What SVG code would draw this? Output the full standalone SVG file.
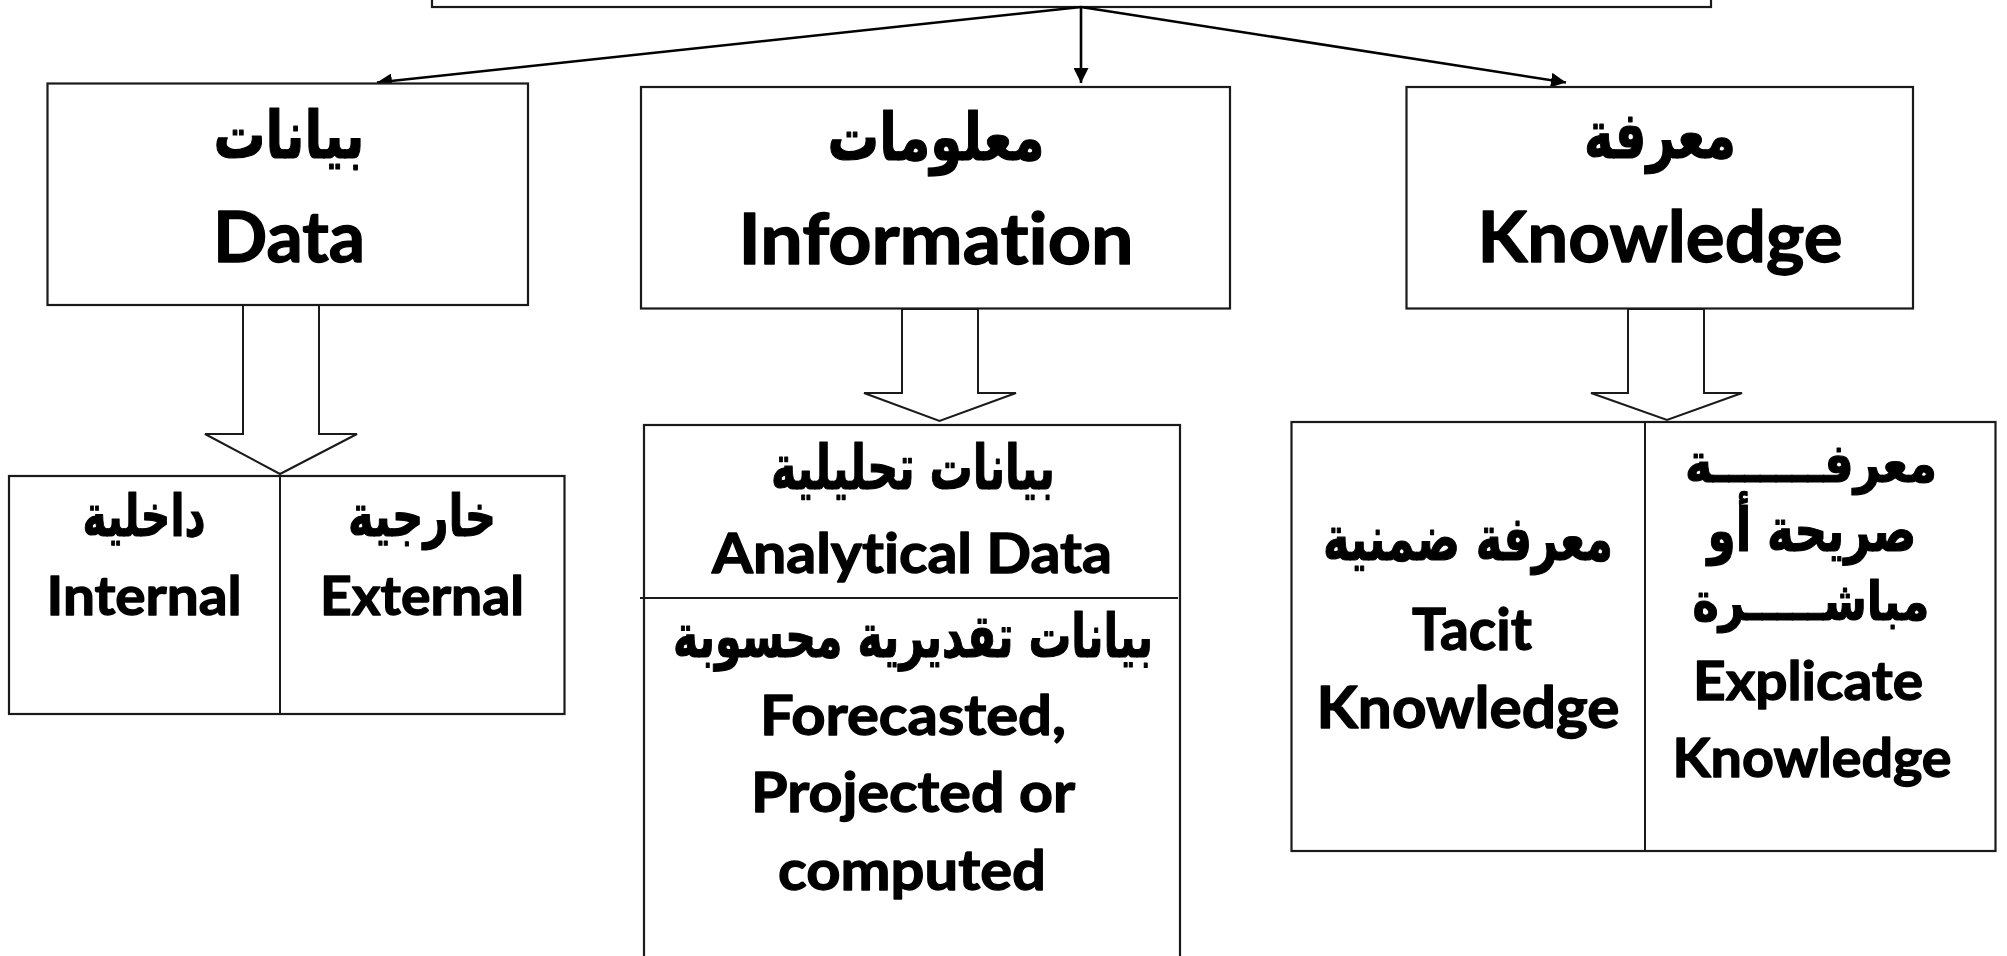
<svg xmlns="http://www.w3.org/2000/svg" width="2007" height="956" viewBox="0 0 2007 956">
  <defs>
    <marker id="arrow" viewBox="0 0 15 15" refX="15" refY="7.5" markerWidth="15" markerHeight="15" markerUnits="userSpaceOnUse" orient="auto">
      <path d="M0,0 L15,7.5 L0,15 Z" fill="#000"/>
    </marker>
    <style>
      .box { fill: #fff; stroke: #1a1a1a; stroke-width: 2.2; }
      .div { stroke: #1a1a1a; stroke-width: 2; fill: none; }
      .link { stroke: #000; stroke-width: 2.6; fill: none; marker-end: url(#arrow); }
      .block { fill: #fff; stroke: #1a1a1a; stroke-width: 2; stroke-linejoin: miter; }
      .en { font-family: Lato, "Open Sans", "Liberation Sans", sans-serif; font-weight: bold; font-variant-ligatures: none; fill: #000; stroke: #000; stroke-width: 1.3; stroke-linejoin: round; text-anchor: middle; }
      .ar { font-family: "DejaVu Sans", "Noto Sans Arabic", "Noto Sans", sans-serif; font-weight: bold; fill: #000; stroke: #000; stroke-width: 1.2; stroke-linejoin: round; text-anchor: middle; }
    </style>
  </defs>

  <rect width="2007" height="956" fill="#fff"/>

  <!-- root box, only its lower edge is in view -->
  <g id="root">
    <rect class="box" x="432" y="-30" width="1279" height="37"/>
  </g>

  <g id="connectors">
    <line class="link" x1="1081" y1="7" x2="377" y2="82.5"/>
    <line class="link" x1="1081" y1="7" x2="1081" y2="83"/>
    <line class="link" x1="1081" y1="7" x2="1566" y2="82.5"/>
    <!-- block arrows to the detail boxes -->
    <polygon class="block" points="243,305 319,305 319,434 357,434 280,474 205,434 243,434"/>
    <polygon class="block" points="902,309 978,309 978,393 1016,393 939.5,421 864,393 902,393"/>
    <polygon class="block" points="1628,309 1704,309 1704,393 1742,393 1667,420 1591,393 1628,393"/>
  </g>

  <g id="data">
    <rect class="box" x="47.5" y="83.5" width="480.5" height="221.5"/>
    <text class="ar" x="289" y="158" font-size="66" textLength="151" lengthAdjust="spacingAndGlyphs">بيانات</text>
    <text class="en" x="289" y="262" font-size="70" textLength="152" lengthAdjust="spacingAndGlyphs">Data</text>
  </g>

  <g id="information">
    <rect class="box" x="641" y="87" width="589" height="221.5"/>
    <text class="ar" x="936" y="160" font-size="66" textLength="217" lengthAdjust="spacingAndGlyphs">معلومات</text>
    <text class="en" x="936" y="264" font-size="70" textLength="395" lengthAdjust="spacingAndGlyphs">Information</text>
  </g>

  <g id="knowledge">
    <rect class="box" x="1406.5" y="87" width="506.5" height="221.5"/>
    <text class="ar" x="1660" y="158" font-size="66" textLength="152" lengthAdjust="spacingAndGlyphs">معرفة</text>
    <text class="en" x="1660" y="262" font-size="70" textLength="365" lengthAdjust="spacingAndGlyphs">Knowledge</text>
  </g>

  <g id="data-sources">
    <rect class="box" x="9" y="476" width="555.5" height="238"/>
    <line class="div" x1="280" y1="476" x2="280" y2="714"/>
    <text class="ar" x="144" y="536" font-size="58" textLength="123" lengthAdjust="spacingAndGlyphs">داخلية</text>
    <text class="en" x="144" y="615" font-size="54" textLength="195" lengthAdjust="spacingAndGlyphs">Internal</text>
    <text class="ar" x="422" y="536" font-size="58" textLength="148" lengthAdjust="spacingAndGlyphs">خارجية</text>
    <text class="en" x="422" y="615" font-size="54" textLength="204" lengthAdjust="spacingAndGlyphs">External</text>
  </g>

  <g id="information-types">
    <rect class="box" x="644" y="425" width="536" height="560"/>
    <line class="div" x1="640" y1="598" x2="1178" y2="598"/>
    <text class="ar" x="913" y="489" font-size="62" textLength="284" lengthAdjust="spacingAndGlyphs">بيانات تحليلية</text>
    <text class="en" x="912" y="573" font-size="56" textLength="400" lengthAdjust="spacingAndGlyphs">Analytical Data</text>
    <text class="ar" x="913" y="657" font-size="60" textLength="480" lengthAdjust="spacingAndGlyphs">بيانات تقديرية محسوبة</text>
    <text class="en" x="913" y="735" font-size="56" textLength="306" lengthAdjust="spacingAndGlyphs">Forecasted,</text>
    <text class="en" x="913" y="812" font-size="56" textLength="324" lengthAdjust="spacingAndGlyphs">Projected or</text>
    <text class="en" x="912" y="890" font-size="56" textLength="268" lengthAdjust="spacingAndGlyphs">computed</text>
  </g>

  <g id="knowledge-types">
    <rect class="box" x="1291.5" y="422" width="704" height="429"/>
    <line class="div" x1="1645" y1="422" x2="1645" y2="851"/>
    <text class="ar" x="1468" y="560" font-size="62" textLength="290" lengthAdjust="spacingAndGlyphs">معرفة ضمنية</text>
    <text class="en" x="1472" y="650" font-size="58" textLength="120" lengthAdjust="spacingAndGlyphs">Tacit</text>
    <text class="en" x="1468" y="728" font-size="58" textLength="303" lengthAdjust="spacingAndGlyphs">Knowledge</text>
    <text class="ar" x="1811" y="482" font-size="54" textLength="252" lengthAdjust="spacingAndGlyphs">معرفـــــــة</text>
    <text class="ar" x="1812" y="551" font-size="60" textLength="209" lengthAdjust="spacingAndGlyphs">صريحة أو</text>
    <text class="ar" x="1811" y="620" font-size="54" textLength="237" lengthAdjust="spacingAndGlyphs">مباشـــــرة</text>
    <text class="en" x="1808" y="700" font-size="53" textLength="230" lengthAdjust="spacingAndGlyphs">Explicate</text>
    <text class="en" x="1812" y="777" font-size="53" textLength="279" lengthAdjust="spacingAndGlyphs">Knowledge</text>
  </g>
</svg>
